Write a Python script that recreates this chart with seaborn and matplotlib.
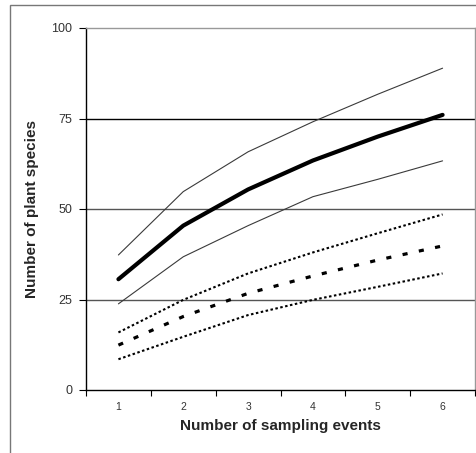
import matplotlib
matplotlib.use("Agg")
import matplotlib.pyplot as plt
from matplotlib.patches import Rectangle
import seaborn as sns

# values
events = [1, 2, 3, 4, 5, 6]
mean_a = [30.6, 45.4, 55.4, 63.4, 70.0, 76.0]
upper_a = [37.3, 54.8, 65.8, 74.1, 81.7, 88.9]
lower_a = [23.8, 36.8, 45.4, 53.4, 58.2, 63.3]
mean_b = [12.4, 20.3, 26.7, 31.5, 35.9, 39.8]
upper_b = [15.9, 24.9, 32.2, 38.0, 43.3, 48.5]
lower_b = [8.5, 14.7, 20.7, 24.9, 28.5, 32.2]
y_ticks = [0, 25, 50, 75, 100]

sns.set_style("white")
plt.rcParams['font.family'] = ['Liberation Sans', 'DejaVu Sans']

fig = plt.figure(figsize=(4.76, 4.53), dpi=100)
ax = fig.add_axes([86 / 476, 1 - 390 / 453, (475 - 86) / 476, (390 - 28) / 453])

# outer frame of the figure
fig.patches.append(Rectangle((10 / 476, -0.1), 1.2, 1.1 - 5 / 453,
                             transform=fig.transFigure, fill=False,
                             edgecolor="#777777", linewidth=1.0))

# horizontal grid lines
for v in [25, 50]:
    ax.axhline(v, color="#555555", linewidth=1.0, zorder=0)
ax.axhline(75, color="black", linewidth=1.0, zorder=0)

thin = dict(color="#3a3a3a", linewidth=0.8)
sns.lineplot(x=events, y=upper_a, ax=ax, **thin)
sns.lineplot(x=events, y=lower_a, ax=ax, **thin)
sns.lineplot(x=events, y=mean_a, ax=ax, color="black", linewidth=3.0)
sns.lineplot(x=events, y=upper_b, ax=ax, color="black", linewidth=1.5,
             linestyle=(0, (1.2, 1.2)))
sns.lineplot(x=events, y=lower_b, ax=ax, color="black", linewidth=1.5,
             linestyle=(0, (1.2, 1.2)))
sns.lineplot(x=events, y=mean_b, ax=ax, color="black", linewidth=2.3,
             linestyle=(0, (1.6, 3.6)))

ax.set_xlim(0.5, 6.5)
ax.set_ylim(0, 100)
ax.set_yticks(y_ticks)
ax.set_yticklabels([str(t) for t in y_ticks], fontsize=9, color="#333333")
ax.set_xticks(events)
ax.set_xticklabels([str(e) for e in events], fontsize=7.5, color="#333333")
ax.set_xticks([e - 0.5 for e in events] + [6.5], minor=True)
ax.tick_params(axis="x", which="major", length=0, pad=9)
ax.tick_params(axis="x", which="minor", length=4, width=0.8, color="black",
               direction="out", bottom=True)
ax.tick_params(axis="y", length=5, width=0.8, color="black", direction="out",
               left=True, pad=5)

for side in ["left", "bottom"]:
    ax.spines[side].set_color("black")
    ax.spines[side].set_linewidth(1.0)
for side in ["top", "right"]:
    ax.spines[side].set_color("#999999")
    ax.spines[side].set_linewidth(1.0)

ax.set_xlabel("Number of sampling events", fontsize=11, fontweight="bold",
              labelpad=5)
ax.set_ylabel("Number of plant species", fontsize=11, fontweight="bold",
              labelpad=9)

fig.savefig("out.png", dpi=100)
